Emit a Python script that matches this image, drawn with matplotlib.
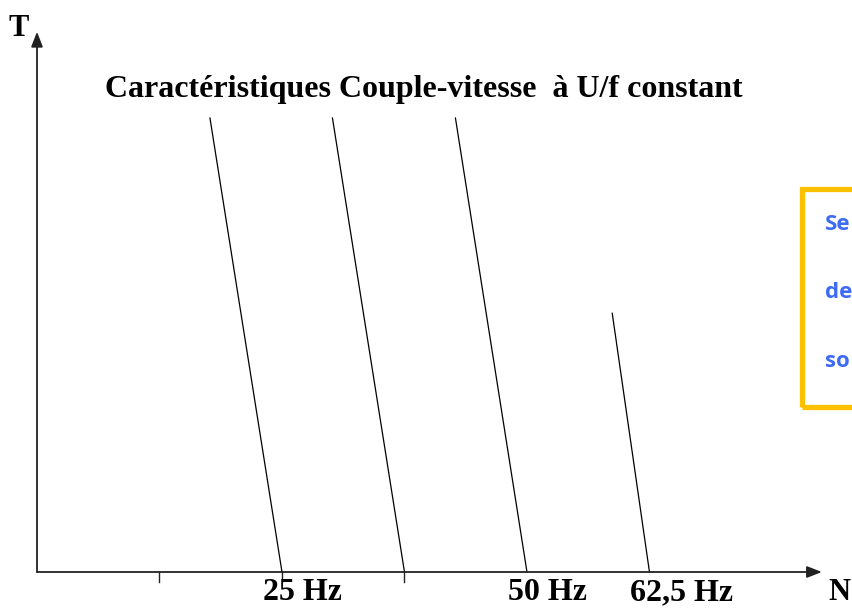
import numpy as np
import matplotlib.pyplot as plt
from matplotlib.patches import Rectangle

# supply frequency of each torque-speed curve (Hz) and its label
freqs = [25, 37.5, 50, 62.5]
freq_labels = {25: "25 Hz", 50: "50 Hz", 62.5: "62,5 Hz"}
# top of each linear curve: torque (relative) and slip in Hz below synchronous speed
t_top = [1.0, 1.0, 1.0, 0.57]
slip_top = [7.35, 7.35, 7.3, 3.8]
tick_freqs = [12.5, 25, 37.5]

title = "Caractéristiques Couple-vitesse  à U/f constant"
box_lines = ["Se", "de", "so"]

fig = plt.figure(figsize=(8.53, 6.10), dpi=100)
ax = fig.add_axes([0, 0, 1, 1])
ax.set_xlim(-3.776, 83.27)
ax.set_ylim(-0.0837, 1.26)
ax.axis("off")

serif = dict(family="Liberation Serif", weight="bold", color="black")

# axes with arrow heads
arrow = dict(arrowstyle="-|>,head_length=0.9,head_width=0.35", color="#222222", lw=1.3,
             shrinkA=0, shrinkB=0)
ax.annotate("", xy=(80.1, 0), xytext=(0, 0), arrowprops=arrow)
ax.annotate("", xy=(0, 1.19), xytext=(0, 0), arrowprops=arrow)
ax.text(-1.9, 1.197, "T", fontsize=22, ha="center", va="center", **serif)
ax.text(83.0, -0.046, "N", fontsize=22, ha="right", va="center", **serif)

# small ticks below the speed axis
for f in tick_freqs:
    ax.plot([f, f], [0, -0.022], color="#222222", lw=1.0)

# torque-speed curves
for f, tt, s in zip(freqs, t_top, slip_top):
    ax.plot([f - s, f], [tt, 0], color="black", lw=0.9)
    if f in freq_labels:
        ax.text(f - 1.95, -0.046, freq_labels[f], fontsize=23, ha="left", va="center", **serif)

ax.text(39.5, 1.062, title, fontsize=23, ha="center", va="center", **serif)

# yellow framed note on the right
box = Rectangle((0.9402, 0.333), 0.2, 0.357, transform=fig.transFigure,
                fill=False, edgecolor="#FFC000", lw=3.8)
fig.patches.append(box)
for i, s in enumerate(box_lines):
    fig.text(0.967, 0.632 - i * 0.112, s, fontsize=16, weight="bold",
             family="Open Sans", color="#3D6BF5", ha="left", va="center")

fig.savefig("out.png", dpi=100)
